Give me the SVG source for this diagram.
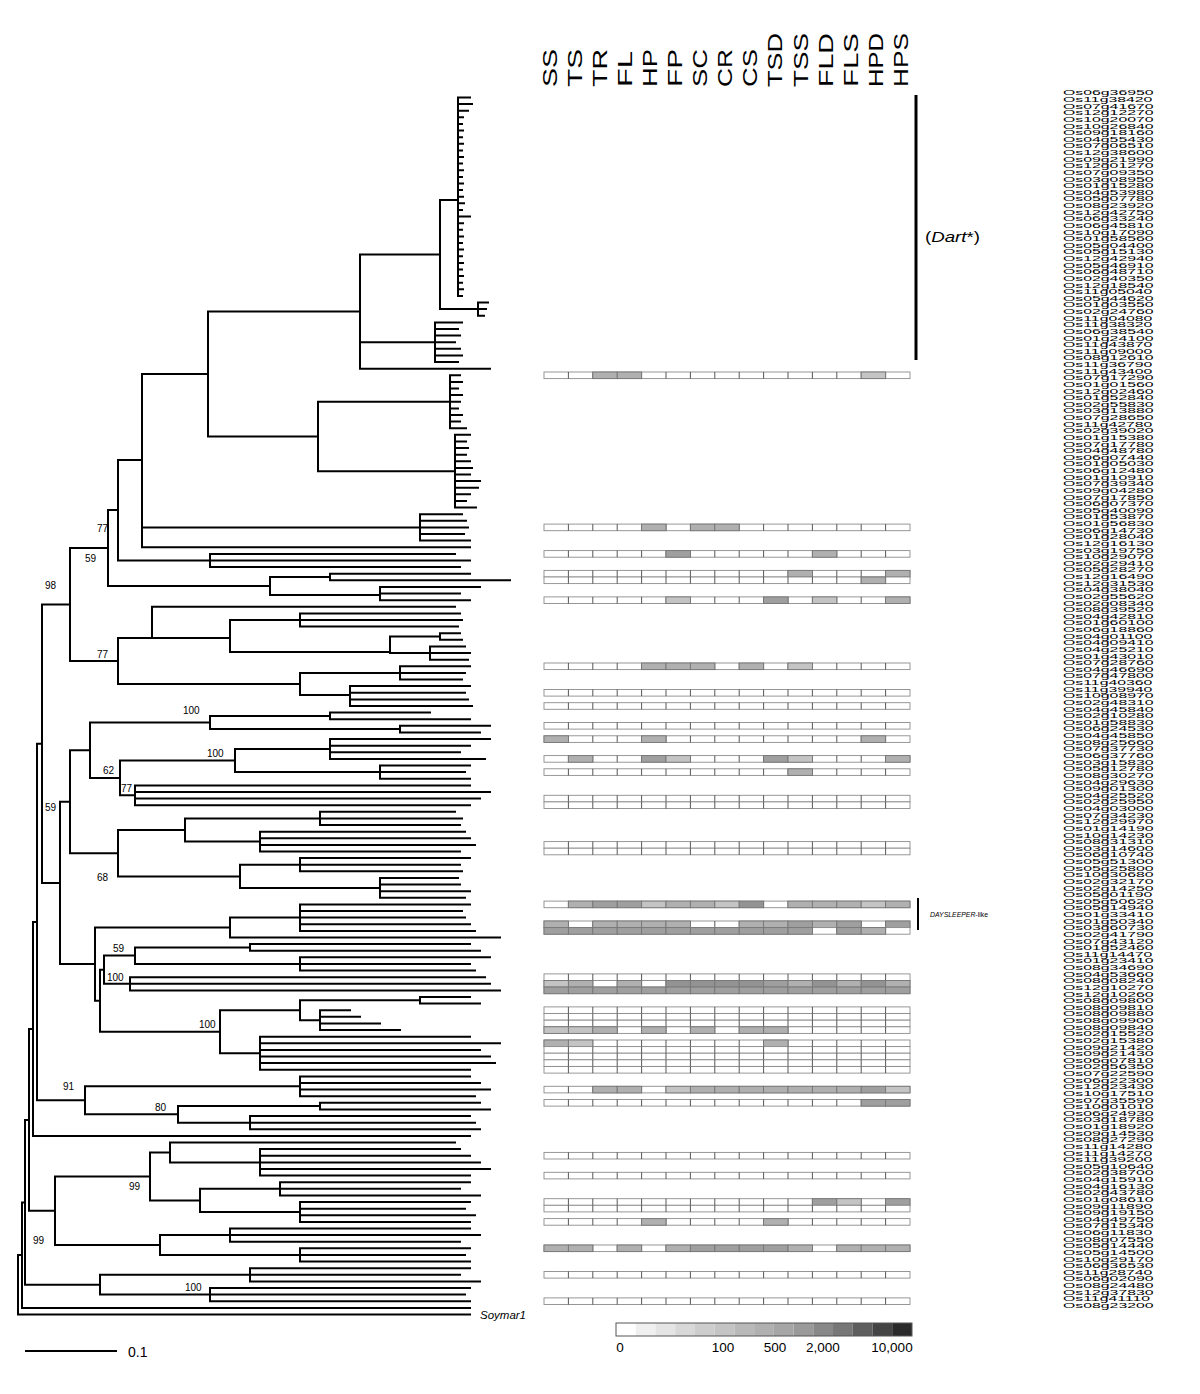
<svg xmlns="http://www.w3.org/2000/svg" xmlns:xlink="http://www.w3.org/1999/xlink" width="1200" height="1394" viewBox="0 0 1200 1394">
<style>
.br{fill:none;stroke:#000;stroke-width:2;stroke-linecap:square}
.bs{font-family:"Liberation Sans",Arial,sans-serif;font-size:10px;fill:#000}
.hd{font-family:"Liberation Sans",Arial,sans-serif;font-size:21px;fill:#000}
.lbl{font-family:"Liberation Sans",Arial,sans-serif;font-size:8px;fill:#000}
.lg{font-family:"Liberation Sans",Arial,sans-serif;font-size:13.5px;fill:#000}
.a{fill:#c4c4c4;stroke:#777;stroke-width:0.9}
.b{fill:#b0b0b0;stroke:#777;stroke-width:0.9}
.c{fill:#9f9f9f;stroke:#777;stroke-width:0.9}
.d{fill:#939393;stroke:#777;stroke-width:0.9}
</style>
<defs>
<g id="hr"><rect x="544" y="0" width="366" height="6.6" fill="#fff" stroke="#8c8c8c" stroke-width="0.9"/><path d="M568.4 0v6.6M592.8 0v6.6M617.2 0v6.6M641.6 0v6.6M666 0v6.6M690.4 0v6.6M714.8 0v6.6M739.2 0v6.6M763.6 0v6.6M788 0v6.6M812.4 0v6.6M836.8 0v6.6M861.2 0v6.6M885.6 0v6.6" stroke="#444" stroke-width="0.9"/></g>
</defs>
<rect width="1200" height="1394" fill="#fff"/>

<g id="tree">
<path class="br" d="M458 97.5V295.9M458 97.5H470M458 104.1H472M458 110.7H468M458 117.3H463M458 124H462M458 130.6H463M458 137.2H462M458 143.8H463M458 150.4H462M458 157H463M458 163.6H462M458 170.3H463M458 176.9H462M458 183.5H463M458 190.1H462M458 196.7H463M458 203.3H464M458 209.9H462M458 216.6H470M458 223.2H463M458 229.8H462M458 236.4H463M458 243H462M458 249.6H463M458 256.2H462M458 262.9H463M458 269.5H462M458 276.1H463M458 282.7H462M458 289.3H463M458 295.9H462
M440 200V309.1M440 200H458M440 309.1H478M478 302.5V315.8M478 302.5H488M478 309.1H486M478 315.8H484
M435 322.4V362.1M435 322.4H462M435 329H458M435 335.6H460M435 342.2H455M435 348.8H460M435 355.4H462M435 362.1H458
M360 254.5V368.7M360 254.5H440M360 342.2H435M360 368.7H490
M450 375.3V428.2M450 375.3H460M450 381.9H462M450 388.5H458M450 395.1H462M450 401.7H460M450 408.4H458M450 415H462M450 421.6H460M450 428.2H466
M455 434.8V507.6M455 434.8H470M455 441.4H466M455 448H468M455 454.7H466M455 461.3H470M455 467.9H472M455 474.5H470M455 481.1H480M455 487.7H478M455 494.3H470M455 501H466M455 507.6H476
M318 401.7V471.2M318 401.7H450M318 471.2H455
M208 311.6V436.5M208 311.6H360M208 436.5H318
M420 514.2V540.6M420 514.2H462M420 520.8H466M420 527.4H468M420 534H464M420 540.6H470
M142 374V547.3M142 374H208M142 527.4H420M142 547.3H470
M118 460V560.5M118 460H142
M210 553.9V567.1M210 553.9H455M210 560.5H470M210 567.1H460M118 560.5H210
M270 577V595M270 577H330M270 595H380M330 573.7V580.3M330 573.7H470M330 580.3H510M380 586.9V600.2M380 586.9H480M380 593.6H460M380 600.2H470
M108 510V586M108 510H118M108 586H270
M152 606.8V638M152 606.8H455M152 638H230
M230 620V652M230 620H300M230 652H390
M300 613.4V626.6M300 613.4H460M300 620H462M300 626.6H458
M390 636.5V653.1M390 636.5H440M390 653.1H430
M440 633.2V639.8M440 633.2H460M440 639.8H462
M430 646.5V659.7M430 646.5H465M430 653.1H470M430 659.7H468
M300 672.9V695M300 672.9H400M300 695H350
M400 666.3V679.5M400 666.3H470M400 672.9H465M400 679.5H462
M350 686.1V706M350 686.1H470M350 692.8H465M350 699.4H468M350 706H472
M118 638V684M118 638H152M118 684H300
M70 548V661M70 548H108M70 661H118
M210 716V729M210 716H330M210 729H400M330 712.6V719.2M330 712.6H430M330 719.2H470M400 725.8V732.4M400 725.8H490M400 732.4H480
M330 739.1V758.9M330 739.1H490M330 745.7H470M330 752.3H460M330 758.9H485
M380 765.5V778.7M380 765.5H470M380 772.1H465M380 778.7H470
M235 749V772.1M235 749H330M235 772.1H380
M135 785.4V805.2M135 785.4H470M135 792H490M135 798.6H480M135 805.2H470
M120 760.5V795.3M120 760.5H235M120 795.3H135
M90 722.5V777.9M90 722.5H210M90 777.9H120
M320 811.8V825M320 811.8H455M320 818.4H462M320 825H460
M260 831.7V851.5M260 831.7H465M260 838.3H470M260 844.9H475M260 851.5H460
M185 818.4V841.6M185 818.4H320M185 841.6H260
M300 858.1V871.3M300 858.1H470M300 864.7H460M300 871.3H462
M380 878V897.8M380 878H458M380 884.6H460M380 891.2H470M380 897.8H465
M240 864.7V888M240 864.7H300M240 888H380
M118 830V876.4M118 830H185M118 876.4H240
M70 750.2V853.2M70 750.2H90M70 853.2H118
M300 904.4V930.9M300 904.4H470M300 911H462M300 917.6H465M300 924.3H470M300 930.9H475
M230 917.6V937.5M230 917.6H300M230 937.5H500
M250 944.1V950.7M250 944.1H470M250 950.7H480
M300 957.3V970.5M300 957.3H490M300 963.9H470M300 970.5H475
M135 947.4V963.9M135 947.4H250M135 963.9H300
M130 977.2V990.4M130 977.2H485M130 983.8H490M130 990.4H500
M420 997V1003.6M420 997H470M420 1003.6H480
M320 1010.2V1030.1M320 1010.2H350M320 1016.8H360M320 1023.5H380M320 1030.1H400
M300 1000.3V1020.2M300 1000.3H420M300 1020.2H320
M260 1036.7V1069.8M260 1036.7H470M260 1043.3H500M260 1049.9H480M260 1056.5H490M260 1063.1H495M260 1069.8H470
M220 1010.2V1053.2M220 1010.2H300M220 1053.2H260
M104 955.6V983.8M104 955.6H135M104 983.8H130
M100 969.7V1031.7M100 969.7H104M100 1031.7H220
M95 927.5V1000.7M95 927.5H230M95 1000.7H100
M60 801.7V964.1M60 801.7H70M60 964.1H95
M42 604.5V882.9M42 604.5H70M42 882.9H60
M300 1076.4V1096.2M300 1076.4H470M300 1083H480M300 1089.6H490M300 1096.2H475
M320 1102.8V1109.4M320 1102.8H480M320 1109.4H490
M250 1116.1V1129.3M250 1116.1H470M250 1122.7H475M250 1129.3H480
M178 1106V1122.7M178 1106H320M178 1122.7H250
M85 1086.3V1114.3M85 1086.3H300M85 1114.3H178
M37 743.7V1100.3M37 743.7H42M37 1100.3H85
M33 922V1135.9M33 922H37M33 1135.9H470
M260 1149.1V1175.6M260 1149.1H460M260 1155.7H470M260 1162.4H480M260 1169H490M260 1175.6H470
M170 1142.5V1162.4M170 1142.5H455M170 1162.4H260
M280 1182.2V1195.4M280 1182.2H470M280 1188.8H460M280 1195.4H480
M300 1202V1221.9M300 1202H470M300 1208.7H465M300 1215.3H475M300 1221.9H470
M200 1188.8V1212M200 1188.8H280M200 1212H300
M150 1152.5V1200.4M150 1152.5H170M150 1200.4H200
M230 1228.5V1241.7M230 1228.5H470M230 1235.1H480M230 1241.7H460
M300 1248.3V1261.6M300 1248.3H470M300 1255H465M300 1261.6H470
M160 1235.1V1255M160 1235.1H230M160 1255H300
M55 1176.5V1245M55 1176.5H150M55 1245H160
M29 1029V1210.8M29 1029H33M29 1210.8H55
M250 1268.2V1281.4M250 1268.2H470M250 1274.8H460M250 1281.4H480
M210 1288V1301.3M210 1288H470M210 1294.6H465M210 1301.3H470
M100 1274.8V1294.6M100 1274.8H250M100 1294.6H210
M25 1120V1284.7M25 1120H29M25 1284.7H100
M22 1202.4V1307.9M22 1202.4H25M22 1307.9H470
M18 1255V1314.5M18 1255H22M18 1314.5H470"/>
<text class="bs" x="97" y="532">77</text>
<text class="bs" x="85" y="562">59</text>
<text class="bs" x="45" y="589">98</text>
<text class="bs" x="97" y="658">77</text>
<text class="bs" x="183" y="714">100</text>
<text class="bs" x="207" y="757">100</text>
<text class="bs" x="103" y="774">62</text>
<text class="bs" x="121" y="792">77</text>
<text class="bs" x="45" y="811">59</text>
<text class="bs" x="97" y="881">68</text>
<text class="bs" x="113" y="952">59</text>
<text class="bs" x="107" y="981">100</text>
<text class="bs" x="199" y="1028">100</text>
<text class="bs" x="63" y="1090">91</text>
<text class="bs" x="155" y="1111">80</text>
<text class="bs" x="129" y="1190">99</text>
<text class="bs" x="33" y="1244">99</text>
<text class="bs" x="185" y="1291">100</text>
<text x="480" y="1319" font-family="Liberation Sans, Arial, sans-serif" font-size="11.5" font-style="italic">Soymar1</text>
</g>

<g id="scale">
<path d="M25 1351H117" stroke="#000" stroke-width="2"/>
<text x="128" y="1357" font-family="Liberation Sans, Arial, sans-serif" font-size="14">0.1</text>
</g>

<g id="headers">
<text class="hd" transform="translate(556.5 87) rotate(-90)" textLength="38" lengthAdjust="spacingAndGlyphs">SS</text>
<text class="hd" transform="translate(581.6 87) rotate(-90)" textLength="38" lengthAdjust="spacingAndGlyphs">TS</text>
<text class="hd" transform="translate(606.7 87) rotate(-90)" textLength="38" lengthAdjust="spacingAndGlyphs">TR</text>
<text class="hd" transform="translate(631.8 87) rotate(-90)" textLength="36" lengthAdjust="spacingAndGlyphs">FL</text>
<text class="hd" transform="translate(656.9 87) rotate(-90)" textLength="38" lengthAdjust="spacingAndGlyphs">HP</text>
<text class="hd" transform="translate(682 87) rotate(-90)" textLength="38" lengthAdjust="spacingAndGlyphs">FP</text>
<text class="hd" transform="translate(707.1 87) rotate(-90)" textLength="38" lengthAdjust="spacingAndGlyphs">SC</text>
<text class="hd" transform="translate(732.2 87) rotate(-90)" textLength="38" lengthAdjust="spacingAndGlyphs">CR</text>
<text class="hd" transform="translate(757.3 87) rotate(-90)" textLength="38" lengthAdjust="spacingAndGlyphs">CS</text>
<text class="hd" transform="translate(782.4 87) rotate(-90)" textLength="54" lengthAdjust="spacingAndGlyphs">TSD</text>
<text class="hd" transform="translate(807.5 87) rotate(-90)" textLength="54" lengthAdjust="spacingAndGlyphs">TSS</text>
<text class="hd" transform="translate(832.6 87) rotate(-90)" textLength="54" lengthAdjust="spacingAndGlyphs">FLD</text>
<text class="hd" transform="translate(857.7 87) rotate(-90)" textLength="54" lengthAdjust="spacingAndGlyphs">FLS</text>
<text class="hd" transform="translate(882.8 87) rotate(-90)" textLength="54" lengthAdjust="spacingAndGlyphs">HPD</text>
<text class="hd" transform="translate(907.9 87) rotate(-90)" textLength="54" lengthAdjust="spacingAndGlyphs">HPS</text>
</g>

<g id="heatmap">
<use xlink:href="#hr" y="372"/><rect class="b" x="592.8" y="372" width="24.4" height="6.6"/><rect class="b" x="617.2" y="372" width="24.4" height="6.6"/><rect class="a" x="861.2" y="372" width="24.4" height="6.6"/>
<use xlink:href="#hr" y="524.1"/><rect class="b" x="641.6" y="524.1" width="24.4" height="6.6"/><rect class="b" x="690.4" y="524.1" width="24.4" height="6.6"/><rect class="b" x="714.8" y="524.1" width="24.4" height="6.6"/>
<use xlink:href="#hr" y="550.6"/><rect class="c" x="666" y="550.6" width="24.4" height="6.6"/><rect class="b" x="812.4" y="550.6" width="24.4" height="6.6"/>
<use xlink:href="#hr" y="570.4"/><rect class="b" x="788" y="570.4" width="24.4" height="6.6"/><rect class="b" x="885.6" y="570.4" width="24.4" height="6.6"/>
<use xlink:href="#hr" y="577"/><rect class="b" x="861.2" y="577" width="24.4" height="6.6"/>
<use xlink:href="#hr" y="596.9"/><rect class="a" x="666" y="596.9" width="24.4" height="6.6"/><rect class="c" x="763.6" y="596.9" width="24.4" height="6.6"/><rect class="a" x="812.4" y="596.9" width="24.4" height="6.6"/><rect class="b" x="885.6" y="596.9" width="24.4" height="6.6"/>
<use xlink:href="#hr" y="663"/><rect class="b" x="641.6" y="663" width="24.4" height="6.6"/><rect class="b" x="666" y="663" width="24.4" height="6.6"/><rect class="b" x="690.4" y="663" width="24.4" height="6.6"/><rect class="b" x="739.2" y="663" width="24.4" height="6.6"/><rect class="a" x="788" y="663" width="24.4" height="6.6"/>
<use xlink:href="#hr" y="689.5"/>
<use xlink:href="#hr" y="702.7"/>
<use xlink:href="#hr" y="722.5"/>
<use xlink:href="#hr" y="735.8"/><rect class="b" x="544" y="735.8" width="24.4" height="6.6"/><rect class="b" x="641.6" y="735.8" width="24.4" height="6.6"/><rect class="b" x="861.2" y="735.8" width="24.4" height="6.6"/>
<use xlink:href="#hr" y="755.6"/><rect class="b" x="568.4" y="755.6" width="24.4" height="6.6"/><rect class="c" x="641.6" y="755.6" width="24.4" height="6.6"/><rect class="a" x="666" y="755.6" width="24.4" height="6.6"/><rect class="c" x="763.6" y="755.6" width="24.4" height="6.6"/><rect class="a" x="788" y="755.6" width="24.4" height="6.6"/><rect class="b" x="885.6" y="755.6" width="24.4" height="6.6"/>
<use xlink:href="#hr" y="768.8"/><rect class="b" x="788" y="768.8" width="24.4" height="6.6"/>
<use xlink:href="#hr" y="795.3"/><use xlink:href="#hr" y="801.9"/>
<use xlink:href="#hr" y="841.6"/><use xlink:href="#hr" y="848.2"/>
<use xlink:href="#hr" y="901.1"/><rect class="b" x="568.4" y="901.1" width="24.4" height="6.6"/><rect class="c" x="592.8" y="901.1" width="24.4" height="6.6"/><rect class="c" x="617.2" y="901.1" width="24.4" height="6.6"/><rect class="a" x="641.6" y="901.1" width="24.4" height="6.6"/><rect class="b" x="666" y="901.1" width="24.4" height="6.6"/><rect class="b" x="690.4" y="901.1" width="24.4" height="6.6"/><rect class="a" x="714.8" y="901.1" width="24.4" height="6.6"/><rect class="d" x="739.2" y="901.1" width="24.4" height="6.6"/><rect class="b" x="788" y="901.1" width="24.4" height="6.6"/><rect class="b" x="812.4" y="901.1" width="24.4" height="6.6"/><rect class="b" x="836.8" y="901.1" width="24.4" height="6.6"/><rect class="a" x="861.2" y="901.1" width="24.4" height="6.6"/><rect class="b" x="885.6" y="901.1" width="24.4" height="6.6"/>
<use xlink:href="#hr" y="921"/><rect class="b" x="544" y="921" width="24.4" height="6.6"/><rect class="b" x="592.8" y="921" width="24.4" height="6.6"/><rect class="b" x="617.2" y="921" width="24.4" height="6.6"/><rect class="b" x="641.6" y="921" width="24.4" height="6.6"/><rect class="b" x="666" y="921" width="24.4" height="6.6"/><rect class="b" x="739.2" y="921" width="24.4" height="6.6"/><rect class="b" x="763.6" y="921" width="24.4" height="6.6"/><rect class="c" x="788" y="921" width="24.4" height="6.6"/><rect class="b" x="812.4" y="921" width="24.4" height="6.6"/><rect class="c" x="836.8" y="921" width="24.4" height="6.6"/><rect class="c" x="885.6" y="921" width="24.4" height="6.6"/>
<use xlink:href="#hr" y="927.6"/><rect class="c" x="544" y="927.6" width="24.4" height="6.6"/><rect class="c" x="568.4" y="927.6" width="24.4" height="6.6"/><rect class="c" x="592.8" y="927.6" width="24.4" height="6.6"/><rect class="c" x="617.2" y="927.6" width="24.4" height="6.6"/><rect class="c" x="641.6" y="927.6" width="24.4" height="6.6"/><rect class="c" x="666" y="927.6" width="24.4" height="6.6"/><rect class="c" x="690.4" y="927.6" width="24.4" height="6.6"/><rect class="c" x="714.8" y="927.6" width="24.4" height="6.6"/><rect class="c" x="739.2" y="927.6" width="24.4" height="6.6"/><rect class="c" x="763.6" y="927.6" width="24.4" height="6.6"/><rect class="c" x="788" y="927.6" width="24.4" height="6.6"/><rect class="c" x="836.8" y="927.6" width="24.4" height="6.6"/><rect class="b" x="861.2" y="927.6" width="24.4" height="6.6"/>
<use xlink:href="#hr" y="973.9"/>
<use xlink:href="#hr" y="980.5"/><rect class="a" x="544" y="980.5" width="24.4" height="6.6"/><rect class="b" x="568.4" y="980.5" width="24.4" height="6.6"/><rect class="b" x="617.2" y="980.5" width="24.4" height="6.6"/><rect class="d" x="666" y="980.5" width="24.4" height="6.6"/><rect class="d" x="690.4" y="980.5" width="24.4" height="6.6"/><rect class="d" x="714.8" y="980.5" width="24.4" height="6.6"/><rect class="d" x="739.2" y="980.5" width="24.4" height="6.6"/><rect class="c" x="763.6" y="980.5" width="24.4" height="6.6"/><rect class="b" x="788" y="980.5" width="24.4" height="6.6"/><rect class="d" x="812.4" y="980.5" width="24.4" height="6.6"/><rect class="b" x="836.8" y="980.5" width="24.4" height="6.6"/><rect class="d" x="861.2" y="980.5" width="24.4" height="6.6"/><rect class="b" x="885.6" y="980.5" width="24.4" height="6.6"/>
<use xlink:href="#hr" y="987.1"/><rect class="c" x="544" y="987.1" width="24.4" height="6.6"/><rect class="c" x="568.4" y="987.1" width="24.4" height="6.6"/><rect class="c" x="592.8" y="987.1" width="24.4" height="6.6"/><rect class="c" x="617.2" y="987.1" width="24.4" height="6.6"/><rect class="c" x="641.6" y="987.1" width="24.4" height="6.6"/><rect class="c" x="666" y="987.1" width="24.4" height="6.6"/><rect class="c" x="690.4" y="987.1" width="24.4" height="6.6"/><rect class="c" x="714.8" y="987.1" width="24.4" height="6.6"/><rect class="c" x="739.2" y="987.1" width="24.4" height="6.6"/><rect class="c" x="763.6" y="987.1" width="24.4" height="6.6"/><rect class="c" x="788" y="987.1" width="24.4" height="6.6"/><rect class="c" x="812.4" y="987.1" width="24.4" height="6.6"/><rect class="c" x="836.8" y="987.1" width="24.4" height="6.6"/><rect class="c" x="861.2" y="987.1" width="24.4" height="6.6"/><rect class="c" x="885.6" y="987.1" width="24.4" height="6.6"/>
<use xlink:href="#hr" y="1006.9"/><use xlink:href="#hr" y="1013.5"/><use xlink:href="#hr" y="1020.2"/>
<use xlink:href="#hr" y="1026.8"/><rect class="a" x="544" y="1026.8" width="24.4" height="6.6"/><rect class="a" x="568.4" y="1026.8" width="24.4" height="6.6"/><rect class="b" x="592.8" y="1026.8" width="24.4" height="6.6"/><rect class="b" x="641.6" y="1026.8" width="24.4" height="6.6"/><rect class="b" x="690.4" y="1026.8" width="24.4" height="6.6"/><rect class="b" x="739.2" y="1026.8" width="24.4" height="6.6"/><rect class="b" x="763.6" y="1026.8" width="24.4" height="6.6"/>
<use xlink:href="#hr" y="1040"/><rect class="b" x="544" y="1040" width="24.4" height="6.6"/><rect class="a" x="568.4" y="1040" width="24.4" height="6.6"/><rect class="b" x="763.6" y="1040" width="24.4" height="6.6"/>
<use xlink:href="#hr" y="1046.6"/><use xlink:href="#hr" y="1053.2"/><use xlink:href="#hr" y="1059.8"/><use xlink:href="#hr" y="1066.5"/>
<use xlink:href="#hr" y="1086.3"/><rect class="b" x="592.8" y="1086.3" width="24.4" height="6.6"/><rect class="b" x="617.2" y="1086.3" width="24.4" height="6.6"/><rect class="a" x="666" y="1086.3" width="24.4" height="6.6"/><rect class="b" x="690.4" y="1086.3" width="24.4" height="6.6"/><rect class="b" x="714.8" y="1086.3" width="24.4" height="6.6"/><rect class="b" x="739.2" y="1086.3" width="24.4" height="6.6"/><rect class="b" x="763.6" y="1086.3" width="24.4" height="6.6"/><rect class="b" x="788" y="1086.3" width="24.4" height="6.6"/><rect class="b" x="812.4" y="1086.3" width="24.4" height="6.6"/><rect class="b" x="836.8" y="1086.3" width="24.4" height="6.6"/><rect class="c" x="861.2" y="1086.3" width="24.4" height="6.6"/><rect class="a" x="885.6" y="1086.3" width="24.4" height="6.6"/>
<use xlink:href="#hr" y="1099.5"/><rect class="c" x="861.2" y="1099.5" width="24.4" height="6.6"/><rect class="c" x="885.6" y="1099.5" width="24.4" height="6.6"/>
<use xlink:href="#hr" y="1152.4"/>
<use xlink:href="#hr" y="1172.3"/>
<use xlink:href="#hr" y="1198.7"/><rect class="c" x="812.4" y="1198.7" width="24.4" height="6.6"/><rect class="a" x="836.8" y="1198.7" width="24.4" height="6.6"/><rect class="c" x="885.6" y="1198.7" width="24.4" height="6.6"/>
<use xlink:href="#hr" y="1205.3"/>
<use xlink:href="#hr" y="1218.6"/><rect class="b" x="641.6" y="1218.6" width="24.4" height="6.6"/><rect class="b" x="763.6" y="1218.6" width="24.4" height="6.6"/>
<use xlink:href="#hr" y="1245"/><rect class="b" x="544" y="1245" width="24.4" height="6.6"/><rect class="b" x="568.4" y="1245" width="24.4" height="6.6"/><rect class="b" x="617.2" y="1245" width="24.4" height="6.6"/><rect class="b" x="666" y="1245" width="24.4" height="6.6"/><rect class="c" x="690.4" y="1245" width="24.4" height="6.6"/><rect class="c" x="714.8" y="1245" width="24.4" height="6.6"/><rect class="c" x="739.2" y="1245" width="24.4" height="6.6"/><rect class="c" x="763.6" y="1245" width="24.4" height="6.6"/><rect class="b" x="788" y="1245" width="24.4" height="6.6"/><rect class="b" x="836.8" y="1245" width="24.4" height="6.6"/><rect class="b" x="861.2" y="1245" width="24.4" height="6.6"/><rect class="b" x="885.6" y="1245" width="24.4" height="6.6"/>
<use xlink:href="#hr" y="1271.5"/>
<use xlink:href="#hr" y="1297.9"/>
</g>

<g id="clade-bars">
<path d="M916 95V360" stroke="#000" stroke-width="3"/>
<text x="925" y="242" font-family="Liberation Sans, Arial, sans-serif" font-size="14" textLength="55" lengthAdjust="spacingAndGlyphs">(<tspan font-style="italic">Dart</tspan>*)</text>
<path d="M918 898V930" stroke="#000" stroke-width="2"/>
<text x="930" y="917" font-family="Liberation Sans, Arial, sans-serif" font-size="6.5" textLength="58" lengthAdjust="spacingAndGlyphs"><tspan font-style="italic">DAYSLEEPER</tspan>-like</text>
</g>

<g id="legend">
<rect x="616" y="1323" width="19.73" height="13" fill="#ffffff"/>
<rect x="635.73" y="1323" width="19.73" height="13" fill="#f0f0f0"/>
<rect x="655.46" y="1323" width="19.73" height="13" fill="#e4e4e4"/>
<rect x="675.19" y="1323" width="19.73" height="13" fill="#d8d8d8"/>
<rect x="694.92" y="1323" width="19.73" height="13" fill="#cdcdcd"/>
<rect x="714.65" y="1323" width="19.73" height="13" fill="#c4c4c4"/>
<rect x="734.38" y="1323" width="19.73" height="13" fill="#b9b9b9"/>
<rect x="754.11" y="1323" width="19.73" height="13" fill="#b0b0b0"/>
<rect x="773.84" y="1323" width="19.73" height="13" fill="#a6a6a6"/>
<rect x="793.57" y="1323" width="19.73" height="13" fill="#9a9a9a"/>
<rect x="813.3" y="1323" width="19.73" height="13" fill="#888888"/>
<rect x="833.03" y="1323" width="19.73" height="13" fill="#777777"/>
<rect x="852.76" y="1323" width="19.73" height="13" fill="#5e5e5e"/>
<rect x="872.49" y="1323" width="19.73" height="13" fill="#444444"/>
<rect x="892.22" y="1323" width="19.73" height="13" fill="#2a2a2a"/>
<rect x="616" y="1323" width="296" height="13" fill="none" stroke="#555" stroke-width="1"/>
<text class="lg" x="620" y="1352" text-anchor="middle">0</text>
<text class="lg" x="723" y="1352" text-anchor="middle">100</text>
<text class="lg" x="775" y="1352" text-anchor="middle">500</text>
<text class="lg" x="823" y="1352" text-anchor="middle">2,000</text>
<text class="lg" x="892" y="1352" text-anchor="middle">10,000</text>
</g>

<g id="labels" transform="translate(1063 95.4) scale(1.98 1)">
<text class="lbl"><tspan x="0" y="0">Os06g36950</tspan><tspan x="0" dy="6.626">Os11g38420</tspan><tspan x="0" dy="6.626">Os07g41670</tspan><tspan x="0" dy="6.626">Os12g12270</tspan><tspan x="0" dy="6.626">Os10g20070</tspan><tspan x="0" dy="6.626">Os10g26840</tspan><tspan x="0" dy="6.626">Os09g18160</tspan><tspan x="0" dy="6.626">Os04g55430</tspan><tspan x="0" dy="6.626">Os07g06510</tspan><tspan x="0" dy="6.626">Os12g38600</tspan><tspan x="0" dy="6.626">Os09g21990</tspan><tspan x="0" dy="6.626">Os12g01270</tspan><tspan x="0" dy="6.626">Os07g09350</tspan><tspan x="0" dy="6.626">Os03g08950</tspan><tspan x="0" dy="6.626">Os01g15280</tspan><tspan x="0" dy="6.626">Os04g53980</tspan><tspan x="0" dy="6.626">Os05g07780</tspan><tspan x="0" dy="6.626">Os08g23920</tspan><tspan x="0" dy="6.626">Os12g42750</tspan><tspan x="0" dy="6.626">Os06g33240</tspan><tspan x="0" dy="6.626">Os06g45810</tspan><tspan x="0" dy="6.626">Os10g17090</tspan><tspan x="0" dy="6.626">Os01g58560</tspan><tspan x="0" dy="6.626">Os05g04400</tspan><tspan x="0" dy="6.626">Os05g15130</tspan><tspan x="0" dy="6.626">Os12g42940</tspan><tspan x="0" dy="6.626">Os05g46910</tspan><tspan x="0" dy="6.626">Os06g48710</tspan><tspan x="0" dy="6.626">Os02g40350</tspan><tspan x="0" dy="6.626">Os12g18540</tspan><tspan x="0" dy="6.626">Os11g05040</tspan><tspan x="0" dy="6.626">Os05g44620</tspan><tspan x="0" dy="6.626">Os01g03550</tspan><tspan x="0" dy="6.626">Os02g24760</tspan><tspan x="0" dy="6.626">Os11g04080</tspan><tspan x="0" dy="6.626">Os11g38320</tspan><tspan x="0" dy="6.626">Os06g38540</tspan><tspan x="0" dy="6.626">Os01g24100</tspan><tspan x="0" dy="6.626">Os11g43870</tspan><tspan x="0" dy="6.626">Os11g09000</tspan><tspan x="0" dy="6.626">Os08g12610</tspan><tspan x="0" dy="6.626">Os11g36790</tspan><tspan x="0" dy="6.626">Os11g43400</tspan><tspan x="0" dy="6.626">Os07g17290</tspan><tspan x="0" dy="6.626">Os01g01560</tspan><tspan x="0" dy="6.626">Os12g02460</tspan><tspan x="0" dy="6.626">Os01g52840</tspan><tspan x="0" dy="6.626">Os02g55830</tspan><tspan x="0" dy="6.626">Os03g13880</tspan><tspan x="0" dy="6.626">Os07g28650</tspan><tspan x="0" dy="6.626">Os11g42780</tspan><tspan x="0" dy="6.626">Os02g39020</tspan><tspan x="0" dy="6.626">Os01g15380</tspan><tspan x="0" dy="6.626">Os07g17780</tspan><tspan x="0" dy="6.626">Os04g48780</tspan><tspan x="0" dy="6.626">Os06g07440</tspan><tspan x="0" dy="6.626">Os01g05030</tspan><tspan x="0" dy="6.626">Os06g12480</tspan><tspan x="0" dy="6.626">Os01g10910</tspan><tspan x="0" dy="6.626">Os07g39340</tspan><tspan x="0" dy="6.626">Os09g04280</tspan><tspan x="0" dy="6.626">Os07g17850</tspan><tspan x="0" dy="6.626">Os06g07370</tspan><tspan x="0" dy="6.626">Os05g40090</tspan><tspan x="0" dy="6.626">Os01g53870</tspan><tspan x="0" dy="6.626">Os01g56830</tspan><tspan x="0" dy="6.626">Os06g14730</tspan><tspan x="0" dy="6.626">Os01g28040</tspan><tspan x="0" dy="6.626">Os12g16130</tspan><tspan x="0" dy="6.626">Os03g19750</tspan><tspan x="0" dy="6.626">Os10g29070</tspan><tspan x="0" dy="6.626">Os02g29410</tspan><tspan x="0" dy="6.626">Os05g28270</tspan><tspan x="0" dy="6.626">Os12g16490</tspan><tspan x="0" dy="6.626">Os12g31530</tspan><tspan x="0" dy="6.626">Os04g38040</tspan><tspan x="0" dy="6.626">Os02g55620</tspan><tspan x="0" dy="6.626">Os02g08340</tspan><tspan x="0" dy="6.626">Os08g39520</tspan><tspan x="0" dy="6.626">Os04g42810</tspan><tspan x="0" dy="6.626">Os01g60100</tspan><tspan x="0" dy="6.626">Os06g18860</tspan><tspan x="0" dy="6.626">Os04g01100</tspan><tspan x="0" dy="6.626">Os04g09410</tspan><tspan x="0" dy="6.626">Os04g25210</tspan><tspan x="0" dy="6.626">Os01g43010</tspan><tspan x="0" dy="6.626">Os07g28760</tspan><tspan x="0" dy="6.626">Os04g46690</tspan><tspan x="0" dy="6.626">Os07g47800</tspan><tspan x="0" dy="6.626">Os11g40360</tspan><tspan x="0" dy="6.626">Os11g39940</tspan><tspan x="0" dy="6.626">Os10g08970</tspan><tspan x="0" dy="6.626">Os02g48310</tspan><tspan x="0" dy="6.626">Os04g45840</tspan><tspan x="0" dy="6.626">Os02g10280</tspan><tspan x="0" dy="6.626">Os01g58830</tspan><tspan x="0" dy="6.626">Os06g24530</tspan><tspan x="0" dy="6.626">Os04g45850</tspan><tspan x="0" dy="6.626">Os08g25660</tspan><tspan x="0" dy="6.626">Os07g37730</tspan><tspan x="0" dy="6.626">Os06g37760</tspan><tspan x="0" dy="6.626">Os03g15830</tspan><tspan x="0" dy="6.626">Os05g12780</tspan><tspan x="0" dy="6.626">Os08g30270</tspan><tspan x="0" dy="6.626">Os04g29630</tspan><tspan x="0" dy="6.626">Os09g01300</tspan><tspan x="0" dy="6.626">Os04g25520</tspan><tspan x="0" dy="6.626">Os02g25950</tspan><tspan x="0" dy="6.626">Os04g03000</tspan><tspan x="0" dy="6.626">Os07g34230</tspan><tspan x="0" dy="6.626">Os12g29970</tspan><tspan x="0" dy="6.626">Os01g14190</tspan><tspan x="0" dy="6.626">Os10g14230</tspan><tspan x="0" dy="6.626">Os08g31310</tspan><tspan x="0" dy="6.626">Os03g14600</tspan><tspan x="0" dy="6.626">Os06g10740</tspan><tspan x="0" dy="6.626">Os05g51300</tspan><tspan x="0" dy="6.626">Os05g25800</tspan><tspan x="0" dy="6.626">Os10g30680</tspan><tspan x="0" dy="6.626">Os02g32170</tspan><tspan x="0" dy="6.626">Os02g14250</tspan><tspan x="0" dy="6.626">Os05g01190</tspan><tspan x="0" dy="6.626">Os05g50620</tspan><tspan x="0" dy="6.626">Os05g14940</tspan><tspan x="0" dy="6.626">Os01g33410</tspan><tspan x="0" dy="6.626">Os01g50340</tspan><tspan x="0" dy="6.626">Os03g60730</tspan><tspan x="0" dy="6.626">Os02g41790</tspan><tspan x="0" dy="6.626">Os07g43120</tspan><tspan x="0" dy="6.626">Os01g52460</tspan><tspan x="0" dy="6.626">Os11g14470</tspan><tspan x="0" dy="6.626">Os01g23410</tspan><tspan x="0" dy="6.626">Os08g34690</tspan><tspan x="0" dy="6.626">Os04g53660</tspan><tspan x="0" dy="6.626">Os08g08240</tspan><tspan x="0" dy="6.626">Os12g10270</tspan><tspan x="0" dy="6.626">Os12g10260</tspan><tspan x="0" dy="6.626">Os08g09800</tspan><tspan x="0" dy="6.626">Os08g09810</tspan><tspan x="0" dy="6.626">Os08g09880</tspan><tspan x="0" dy="6.626">Os08g09900</tspan><tspan x="0" dy="6.626">Os08g09840</tspan><tspan x="0" dy="6.626">Os02g15520</tspan><tspan x="0" dy="6.626">Os02g15380</tspan><tspan x="0" dy="6.626">Os09g21420</tspan><tspan x="0" dy="6.626">Os09g21430</tspan><tspan x="0" dy="6.626">Os06g07810</tspan><tspan x="0" dy="6.626">Os02g56350</tspan><tspan x="0" dy="6.626">Os07g22590</tspan><tspan x="0" dy="6.626">Os06g22300</tspan><tspan x="0" dy="6.626">Os12g23430</tspan><tspan x="0" dy="6.626">Os10g17510</tspan><tspan x="0" dy="6.626">Os07g35590</tspan><tspan x="0" dy="6.626">Os10g01010</tspan><tspan x="0" dy="6.626">Os06g24930</tspan><tspan x="0" dy="6.626">Os03g18780</tspan><tspan x="0" dy="6.626">Os01g18920</tspan><tspan x="0" dy="6.626">Os09g14530</tspan><tspan x="0" dy="6.626">Os08g27290</tspan><tspan x="0" dy="6.626">Os11g14280</tspan><tspan x="0" dy="6.626">Os11g14270</tspan><tspan x="0" dy="6.626">Os11g39200</tspan><tspan x="0" dy="6.626">Os05g10640</tspan><tspan x="0" dy="6.626">Os02g38700</tspan><tspan x="0" dy="6.626">Os04g15910</tspan><tspan x="0" dy="6.626">Os04g16130</tspan><tspan x="0" dy="6.626">Os02g43780</tspan><tspan x="0" dy="6.626">Os01g08610</tspan><tspan x="0" dy="6.626">Os09g11890</tspan><tspan x="0" dy="6.626">Os09g19150</tspan><tspan x="0" dy="6.626">Os04g49750</tspan><tspan x="0" dy="6.626">Os07g15340</tspan><tspan x="0" dy="6.626">Os06g11830</tspan><tspan x="0" dy="6.626">Os08g07550</tspan><tspan x="0" dy="6.626">Os05g14440</tspan><tspan x="0" dy="6.626">Os05g14500</tspan><tspan x="0" dy="6.626">Os10g29170</tspan><tspan x="0" dy="6.626">Os06g36530</tspan><tspan x="0" dy="6.626">Os11g28740</tspan><tspan x="0" dy="6.626">Os06g02090</tspan><tspan x="0" dy="6.626">Os08g24480</tspan><tspan x="0" dy="6.626">Os12g37830</tspan><tspan x="0" dy="6.626">Os11g41110</tspan><tspan x="0" dy="6.626">Os08g23200</tspan></text>
</g>
</svg>
